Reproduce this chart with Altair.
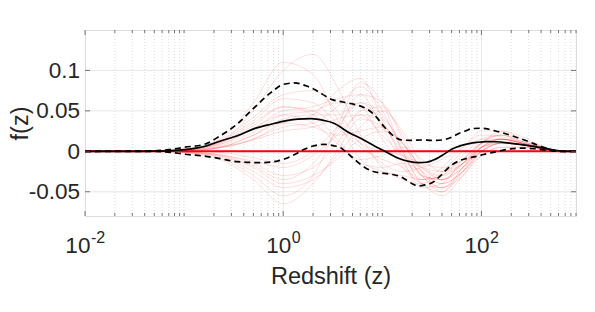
import altair as alt
import pandas as pd

# ---------------- data ----------------
mean_z = [0.01, 0.04, 0.07, 0.1, 0.16, 0.23, 0.35, 0.51, 0.75, 1.08, 1.4, 1.9, 2.6, 3.2,
          4.5, 6.5, 8.5, 10.6, 14.5, 19, 23, 28, 34, 42, 50, 62, 75, 90, 110, 140, 200,
          300, 400, 550, 700, 900]
mean_f = [0, 0, 0.0005, 0.002, 0.006, 0.0125, 0.0195, 0.028, 0.0335, 0.038, 0.0398, 0.0404,
          0.038, 0.035, 0.024, 0.014, 0.006, 0.0, -0.0086, -0.0128, -0.014, -0.0135, -0.010,
          -0.0035, 0.0025, 0.007, 0.0095, 0.011, 0.012, 0.0118, 0.0099, 0.007, 0.0045,
          0.0015, 0.0, 0.0]

upper_z = [0.01, 0.04, 0.07, 0.1, 0.16, 0.23, 0.34, 0.51, 0.75, 1.0, 1.3, 1.7, 2.1, 2.5,
           3.1, 4.0, 5.2, 6.6, 8, 9.1, 10.5, 12.4, 15.7, 20, 25, 32, 40, 50, 59, 70, 80, 95,
           110, 135, 162, 205, 300, 400, 500, 600, 900]
upper_f = [0, 0.0003, 0.002, 0.005, 0.0086, 0.019, 0.0333, 0.054, 0.0725, 0.0827, 0.0845,
           0.081, 0.076, 0.0704, 0.064, 0.061, 0.058, 0.054, 0.047, 0.0395, 0.030, 0.021,
           0.014, 0.0135, 0.014, 0.0135, 0.014, 0.0175, 0.022, 0.0255, 0.028, 0.0285, 0.028,
           0.0255, 0.023, 0.019, 0.012, 0.006, 0.002, 0.0, 0.0]

lower_z = [0.01, 0.04, 0.07, 0.1, 0.16, 0.23, 0.34, 0.6, 0.8, 1.08, 1.35, 1.63, 2.0, 2.6,
           3.2, 3.8, 4.5, 5.3, 6.3, 7.8, 10, 12.4, 15, 17, 20, 23, 27, 32, 38, 43, 50, 59,
           70, 87, 105, 128, 160, 205, 260, 350, 450, 600, 900]
lower_f = [0, 0, -0.001, -0.0035, -0.006, -0.009, -0.0128, -0.014, -0.0128, -0.0086, -0.003,
           0.0025, 0.0065, 0.0086, 0.007, 0.0045, -0.003, -0.0105, -0.018, -0.0243, -0.027,
           -0.0284, -0.031, -0.0346, -0.040, -0.0428, -0.0415, -0.0387, -0.031, -0.0243,
           -0.017, -0.012, -0.009, -0.0066, -0.004, -0.0016, 0.001, 0.0033, 0.004, 0.003,
           0.0015, 0.0, 0.0]

# faint sample curves (values in thousandths) on a common redshift grid
faint_z = [0.01, 0.03, 0.06, 0.12, 0.25, 0.5, 1, 2, 3.5, 6, 10, 16, 25, 40, 65, 100, 160,
           260, 420, 650, 900]
faint_curves = [
    [0, 0, 1, 4, 18, 60, 110, 95, 40, -10, -25, -30, -35, -20, 5, 20, 18, 10, 4, 0, 0],
    [0, 0, 0, 3, 14, 50, 100, 120, 80, 20, -20, -35, -40, -25, 0, 15, 15, 8, 3, 0, 0],
    [0, 0, 0, 1, 5, 15, 35, 45, 75, 90, 40, -10, -45, -40, -10, 10, 15, 10, 4, 0, 0],
    [0, 0, 0, -2, -10, -30, -55, -30, 30, 85, 60, 0, -35, -30, -5, 15, 20, 12, 5, 0, 0],
    [0, 0, 0, -3, -12, -35, -65, -40, 0, 40, 30, 0, -30, -50, -20, 5, 10, 8, 3, 0, 0],
    [0, 0, 1, 3, 12, 35, 55, 50, 30, 5, -10, -20, -40, -55, -30, 0, 15, 12, 5, 0, 0],
    [0, 0, 0, 2, 10, 28, 50, 55, 65, 70, 30, -15, -35, -30, -15, 5, 10, 8, 3, 0, 0],
    [0, 0, 0, -1, -5, -15, -30, -20, 10, 50, 55, 20, -25, -45, -25, 0, 10, 8, 3, 0, 0],
    [0, 0, 1, 4, 16, 42, 70, 75, 50, 10, -15, -25, -20, -10, 5, 25, 25, 15, 5, 0, 0],
    [0, 0, 0, 1, 6, 20, 40, 45, 45, 60, 45, 5, -30, -45, -30, -5, 5, 5, 2, 0, 0],
    [0, 0, 0, -2, -8, -25, -45, -35, -5, 30, 50, 25, -15, -35, -20, 5, 15, 10, 4, 0, 0],
    [0, 0, 0, 3, 12, 32, 55, 45, 15, -15, -20, -15, -25, -40, -25, 0, 10, 8, 3, 0, 0],
    [0, 0, 0, 2, 6, 15, 30, 35, 55, 80, 50, 0, -40, -50, -25, 5, 15, 10, 4, 0, 0],
    [0, 0, 0, -1, -6, -18, -35, -15, 25, 70, 60, 15, -30, -35, -15, 10, 20, 12, 5, 0, 0],
    [0, 0, 0, 1, 5, 14, 25, 30, 40, 45, 20, -5, -20, -25, -10, 10, 25, 18, 6, 0, 0],
    [0, 0, 0, -2, -7, -20, -40, -30, -10, 15, 25, 10, -20, -30, -15, 10, 20, 10, 4, 0, 0],
    [0, 0, 1, 3, 14, 38, 65, 60, 35, 10, 0, -5, -15, -20, -10, 10, 15, 10, 4, 0, 0],
    [0, 0, 0, 2, 8, 24, 45, 50, 60, 55, 15, -20, -40, -45, -20, 5, 12, 8, 3, 0, 0],
    [0, 0, 0, 0, -2, -8, -15, 0, 30, 60, 35, -5, -30, -35, -15, 0, 10, 8, 3, 0, 0],
    [0, 0, 0, 1, 6, 20, 35, 30, 20, 25, 30, 10, -20, -35, -20, 0, 10, 8, 3, 0, 0],
    [0, 0, 0, -1, -5, -12, -20, -5, 20, 45, 40, 10, -25, -40, -25, -5, 5, 5, 2, 0, 0],
    [0, 0, 1, 3, 10, 28, 45, 35, 10, -10, -5, 5, -10, -25, -15, 5, 15, 10, 4, 0, 0],
]

zero_level = [0.0]
y_ticks = [-0.05, 0.0, 0.05, 0.1]
x_major = [0.01, 1, 100]
x_exponents = ["-2", "0", "2"]
x_minor = [m * d for d in [0.01, 0.1, 1, 10, 100] for m in range(2, 10) if m * d <= 900] + [0.1, 10]

# ---------------- layout ----------------
W, H = 491, 186
FONT = "Liberation Sans"
TXT = "#262626"
TICK_FS = 22.5
SUP_FS = 16
TITLE_FS = 23.5
xscale = alt.Scale(type="log", domain=[0.01, 900], nice=False)
yscale = alt.Scale(domain=[-0.08, 0.15], nice=False, zero=False)

X_AX = alt.Axis(labels=False, ticks=False, domain=False, grid=False, orient="bottom",
                title="Redshift (z)", titleFont=FONT, titleFontSize=TITLE_FS,
                titleFontWeight="normal", titleColor=TXT, titleX=W / 2, titleY=67,
                titleBaseline="alphabetic", titleAlign="center")
Y_AX = alt.Axis(values=y_ticks, orient="left", grid=False, ticks=False, tickSize=0,
                domain=False, labelFont=FONT, labelFontSize=TICK_FS, labelColor=TXT,
                labelPadding=5.5,
                labelExpr="datum.value < 0 ? '-' + format(abs(datum.value), '.2~f') : format(datum.value, '.2~f')",
                title="f(z)", titleFont=FONT, titleFontSize=TITLE_FS, titleFontWeight="normal",
                titleColor=TXT, titleAngle=270, titleX=-58, titleY=H / 2,
                titleBaseline="alphabetic", titleAlign="center")

faint_rows = []
for k, c in enumerate(faint_curves):
    for z, v in zip(faint_z, c):
        faint_rows.append({"z": z, "f": v / 1000.0, "k": k})
faint_df = pd.DataFrame(faint_rows)


def XE():
    return alt.X("z:Q", scale=xscale, axis=X_AX)


def YE():
    return alt.Y("f:Q", scale=yscale, axis=Y_AX)


# grids
minor_grid = alt.Chart(pd.DataFrame({"z": x_minor})).mark_rule(
    color="#cfcfcf", strokeDash=[1, 2], strokeWidth=0.7
).encode(x=XE())
major_grid = alt.Chart(pd.DataFrame({"z": x_major[1:]})).mark_rule(
    color="#e2e2e2", strokeWidth=0.8
).encode(x=XE())
y_grid = alt.Chart(pd.DataFrame({"f": y_ticks})).mark_rule(
    color="#e2e2e2", strokeWidth=0.8
).encode(y=YE())

faint = alt.Chart(faint_df).mark_line(
    color="#ff0000", opacity=0.17, strokeWidth=0.8, interpolate="monotone"
).encode(x=XE(), y=YE(), detail="k:N")

zero_line = alt.Chart(pd.DataFrame({"f": zero_level})).mark_rule(
    color="#ff0000", strokeWidth=2
).encode(y=YE())


def curve(zs, fs, dash=None):
    kw = dict(color="black", strokeWidth=1.7, interpolate="monotone")
    if dash:
        kw["strokeDash"] = dash
    return alt.Chart(pd.DataFrame({"z": zs, "f": fs})).mark_line(**kw).encode(x=XE(), y=YE())


upper = curve(upper_z, upper_f, [6, 4])
lower = curve(lower_z, lower_f, [6, 4])
mean = curve(mean_z, mean_f)


# tick marks (inside, on all four sides)
def xticks(vals, length):
    d = pd.DataFrame({"z": vals})
    b = alt.Chart(d).mark_rule(color="#555555", strokeWidth=0.8).encode(
        x=XE(), y=alt.value(H), y2=alt.value(H - length))
    t = alt.Chart(d).mark_rule(color="#555555", strokeWidth=0.8).encode(
        x=XE(), y=alt.value(0), y2=alt.value(length))
    return [b, t]


ytick_df = pd.DataFrame({"f": y_ticks})
yt_left = alt.Chart(ytick_df).mark_rule(color="#555555", strokeWidth=0.8).encode(
    y=YE(), x=alt.value(0), x2=alt.value(5))
yt_right = alt.Chart(ytick_df).mark_rule(color="#555555", strokeWidth=0.8).encode(
    y=YE(), x=alt.value(W - 5), x2=alt.value(W))

# x tick labels 10^n
label_layers = []
w10 = 1.112 * TICK_FS
for val, ex in zip(x_major, x_exponents):
    wsup = sum(0.333 if ch == "-" else 0.556 for ch in ex) * SUP_FS
    c = (w10 - wsup) / 2
    d = pd.DataFrame({"z": [val], "b": ["10"], "e": [ex]})
    label_layers.append(alt.Chart(d).mark_text(
        font=FONT, fontSize=TICK_FS, color=TXT, align="right", baseline="alphabetic", dx=c
    ).encode(x=XE(), y=alt.value(H + 37), text="b:N"))
    label_layers.append(alt.Chart(d).mark_text(
        font=FONT, fontSize=SUP_FS, color=TXT, align="left", baseline="alphabetic", dx=c + 0.5
    ).encode(x=XE(), y=alt.value(H + 27), text="e:N"))

chart = alt.layer(
    y_grid, minor_grid, major_grid, faint, zero_line, upper, lower, mean,
    *xticks(x_minor, 3), *xticks(x_major, 5), yt_left, yt_right, *label_layers
).properties(
    width=W, height=H,
    autosize=alt.AutoSizeParams(type="none"),
    padding={"left": 77, "top": 22, "right": 11, "bottom": 88},
).configure_view(
    stroke="#808080", strokeWidth=1
).configure(background="white")

chart.save("out.html", embed_options={"renderer": "svg", "actions": False})
